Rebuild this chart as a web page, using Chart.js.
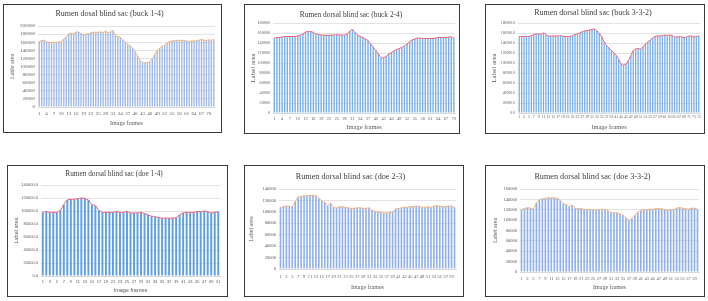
<!DOCTYPE html>
<html>
<head>
<meta charset="utf-8">
<script src="https://cdn.jsdelivr.net/npm/chart.js@4"></script>
<style>
  body { margin:0; background:#fff; width:708px; height:301px; position:relative; overflow:hidden; }
  .panel { position:absolute; border:1px solid #3a3a3a; background:#fff; }
  .panel canvas { display:block; }
</style>
</head>
<body>
<div class="panel" style="left:3px;top:4px;width:217px;height:127px"><canvas id="c1" width="217" height="127"></canvas></div>
<div class="panel" style="left:244px;top:4px;width:214px;height:128px"><canvas id="c2" width="214" height="128"></canvas></div>
<div class="panel" style="left:485px;top:4px;width:218px;height:128px"><canvas id="c3" width="218" height="128"></canvas></div>
<div class="panel" style="left:7px;top:165px;width:219px;height:130px"><canvas id="c4" width="219" height="130"></canvas></div>
<div class="panel" style="left:244px;top:165px;width:218px;height:130px"><canvas id="c5" width="218" height="130"></canvas></div>
<div class="panel" style="left:485px;top:165px;width:218px;height:130px"><canvas id="c6" width="218" height="130"></canvas></div>
<script>
// label area per image frame
const buck14 = [162000,164000,165000,161000,160000,159000,159000,160000,160000,162000,
  168000,172000,181000,182000,181000,185000,185000,181000,179000,180000,
  181000,183000,185000,184000,185000,185000,184000,187000,183000,186000,
  189000,177000,174000,172000,166000,160000,155000,151000,146000,137000,
  126000,115000,110000,109000,110000,112000,120000,130000,140000,145000,
  150000,153000,158000,161000,163000,164000,165000,164000,165000,164000,
  163000,162000,163000,163000,164000,165000,167000,165000,164000,166000,
  165000,167000];
const buck24 = [150000,151000,151000,152000,153000,153000,153000,153000,153000,154000,
  156000,158000,162000,163000,163000,161000,158000,157000,156000,156000,
  155000,155000,156000,156000,157000,156000,156000,156000,158000,164000,
  167000,162000,156000,153000,151000,148000,145000,138000,132000,125000,
  118000,111000,110000,114000,118000,121000,124000,127000,129000,131000,
  134000,138000,143000,146000,148000,150000,150000,149000,149000,149000,
  149000,149000,150000,151000,151000,151000,151000,152000,152000,150000];
const buck332 = [153000,153000,153000,153000,153000,155000,157000,158000,158000,158000,
  160000,157000,154000,154000,154000,154000,154000,155000,153000,153000,
  153000,153000,155000,157000,158000,160000,163000,164000,165000,166000,
  167000,168000,164000,160000,152000,143000,135000,130000,125000,120000,
  115000,107000,98000,96000,98000,105000,115000,125000,128000,129000,
  128000,132000,138000,142000,146000,150000,153000,154000,154000,155000,
  156000,155000,156000,155000,152000,152000,153000,152000,151000,152000,
  154000,154000,152000,153000,154000];
const doe14 = [98000,99000,98000,98000,98000,101000,110000,117000,118000,118000,
  119000,120000,119000,117000,110000,108000,101000,98000,98000,98000,
  98000,99000,98000,98000,99000,97000,97000,97000,98000,96000,
  94000,92000,91000,90000,89000,89000,89000,89000,90000,94000,
  97000,98000,98000,98000,99000,99000,100000,99000,97000,98000,99000];
const doe23 = [108000,109000,110000,110000,109000,118000,126000,127000,128000,128000,
  129000,129000,128000,124000,119000,117000,111000,115000,108000,107000,
  109000,109000,108000,107000,106000,106000,107000,107000,106000,106000,
  107000,103000,101000,100000,99000,98000,98000,99000,100000,105000,
  106000,107000,108000,108000,109000,109000,110000,110000,108000,108000,
  109000,108000,110000,111000,110000,109000,109000,110000,110000,108000];
const doe332 = [121000,122000,124000,123000,122000,133000,139000,141000,142000,143000,
  143000,143000,142000,138000,132000,130000,126000,129000,123000,122000,
  122000,121000,120000,120000,120000,119000,120000,121000,120000,118000,
  115000,114000,114000,112000,110000,105000,100000,103000,110000,115000,
  118000,120000,120000,121000,121000,122000,122000,122000,120000,119000,
  120000,120000,123000,124000,123000,122000,121000,123000,123000,121000];

// x tick labels: every 3rd frame on the first two, every 2nd on the rest
const tickStep = [3, 3, 2, 2, 2, 2];
const yMax = [200000, 180000, 180000, 140000, 140000, 160000];
const titles = [
  'Rumen dosal blind sac (buck 1-4)',
  'Rumen dorsal blind sac (buck 2-4)',
  'Rumen dorsal blind sac (buck 3-3-2)',
  'Rumen dorsal blind sac (doe 1-4)',
  'Rumen dorsal blind sac (doe 2-3)',
  'Rumen dorsal blind sac (doe 3-3-2)'
];
const yTitles = ['Lable area', 'Label area', 'Label area', 'Label area', 'Label area', 'Label area'];
const decimals = [0, 0, 1, 1, 0, 0];
const series = [buck14, buck24, buck332, doe14, doe23, doe332];

// plot box inside each canvas (l,t,r,b), title centre, font sizes and paddings
const layouts = [
  {l:34, t:21, r:211, b:102, ty:9,  tf:8,   kf:5,   xf:6,   yf:6,   xp:4, xtp:5, ytx:8, bar:'#9fb8e6', line:'#f2b27f', sans:false},
  {l:28, t:18, r:212, b:108, ty:10, tf:7.4, kf:4.2, xf:6.5, yf:7,   xp:3, xtp:2, ytx:8, bar:'#7cb0e4', line:'#f0607a', sans:false},
  {l:32, t:18, r:214, b:108, ty:8,  tf:8,   kf:3.8, xf:6.5, yf:7,   xp:2, xtp:2, ytx:8, bar:'#7cb0e4', line:'#f0607a', sans:false},
  {l:33, t:19, r:212, b:110, ty:8,  tf:7.3, kf:4,   xf:5.5, yf:5.5, xp:3, xtp:2, ytx:8, bar:'#5d9fe0', line:'#f0607a', sans:true},
  {l:34, t:23, r:211, b:103, ty:11, tf:8.2, kf:4.5, xf:6,   yf:6,   xp:5, xtp:5, ytx:6, bar:'#8fb0e8', line:'#f2b27f', sans:false},
  {l:34, t:23, r:213, b:106, ty:11, tf:8.2, kf:4.5, xf:6,   yf:6,   xp:4, xtp:5, ytx:9, bar:'#8fb0e8', line:'#f2b27f', sans:false}
];

function makeChart(i) {
  const canvas = document.getElementById('c' + (i + 1));
  const W = canvas.width, H = canvas.height;
  const L = layouts[i];
  const values = series[i];
  const frames = values.map((v, k) => String(k + 1));
  const serif = 'Liberation Serif';
  const family = L.sans ? 'Liberation Sans' : serif;
  const titleH = L.tf * 1.2;
  const padTop = L.ty - titleH / 2;

  new Chart(canvas, {
    type: 'bar',
    data: {
      labels: frames,
      datasets: [
        {type:'line', data: values, borderColor: L.line, borderWidth: 1, pointRadius: 0, tension: 0.3, order: 0},
        {type:'bar', data: values, backgroundColor: L.bar, barPercentage: 0.55, categoryPercentage: 1, order: 1}
      ]
    },
    options: {
      responsive: false,
      animation: false,
      layout: { padding: { left: 0, top: 0, right: W - L.r, bottom: 0 } },
      plugins: {
        legend: { display: false },
        tooltip: { enabled: false },
        title: {
          display: true, text: titles[i], color: '#404040',
          font: { family: serif, size: L.tf, weight: 'normal' },
          padding: { top: padTop, bottom: L.t - titleH - padTop }
        }
      },
      scales: {
        x: {
          grid: { display: false, drawTicks: false },
          border: { color: '#d9d9d9' },
          ticks: {
            autoSkip: false, maxRotation: 0, padding: L.xp, color: '#595959',
            font: { family: family, size: L.kf },
            callback: (v, k) => k % tickStep[i] === 0 ? frames[k] : null
          },
          title: {
            display: true, text: 'Image frames', color: '#595959',
            font: { family: family, size: L.xf }, padding: { top: 0, bottom: L.xtp }
          },
          afterFit: s => { s.height = H - L.b; }
        },
        y: {
          min: 0, max: yMax[i],
          grid: { color: '#e3e3e3', drawTicks: false },
          border: { display: false },
          ticks: {
            autoSkip: false, stepSize: 20000, padding: 3, color: '#595959',
            font: { family: family, size: L.kf },
            callback: v => v.toFixed(decimals[i])
          },
          title: {
            display: true, text: yTitles[i], color: '#595959',
            font: { family: family, size: L.yf },
            padding: { top: L.ytx - L.yf * 0.6, bottom: 0 }
          },
          afterFit: s => { s.width = L.l; }
        }
      }
    }
  });
}

for (let i = 0; i < 6; i++) makeChart(i);
</script>
</body>
</html>
